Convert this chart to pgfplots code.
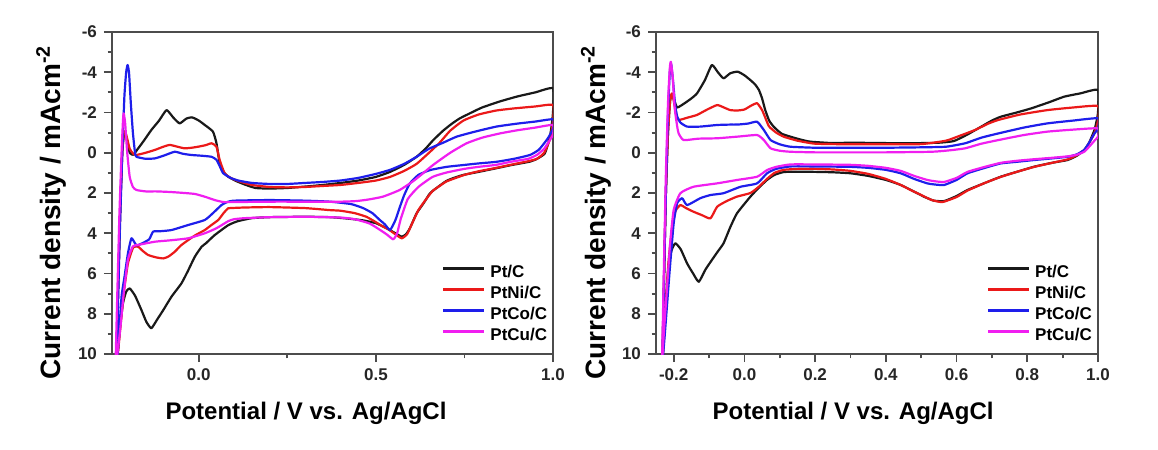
\documentclass[border=0pt]{standalone}
\usepackage{pgfplots}
\pgfplotsset{compat=1.18}
\usepackage{fontspec}
\setmainfont{Liberation Sans}
\definecolor{cvblack}{RGB}{25,25,25}
\definecolor{cvred}{RGB}{235,25,25}
\definecolor{cvblue}{RGB}{30,30,235}
\definecolor{cvmag}{RGB}{240,30,240}

\pgfplotsset{cvstyle/.style={
  scale only axis, height=161pt,
  y dir=reverse, ymin=-6, ymax=10, ytick={-6,-4,...,10}, minor y tick num=1,
  xmax=1.0, no markers,
  tick pos=left, tick align=outside,
  major tick length=4pt, minor tick length=2.2pt,
  tick style={black!70, line width=0.9pt},
  axis line style={black!70, line width=1.2pt},
  ticklabel style={font=\fontsize{8.5}{9}\selectfont\bfseries, text=black!85},
  xticklabel={\pgfmathprintnumber[assume math mode=true,fixed,fixed zerofill,precision=1]{\tick}},
  yticklabel={\pgfmathprintnumber[assume math mode=true]{\tick}},
  xlabel={Potential / V vs. Ag/AgCl},
  ylabel={Current density / mAcm\textsuperscript{-2}},
  xlabel style={font=\fontsize{12}{14}\selectfont\bfseries, anchor=base},
  ylabel style={font=\fontsize{14}{16}\selectfont\bfseries, anchor=center},
  legend style={draw=none, fill=none, at={(axis description cs:0.748,0.281)}, anchor=north west,
    font=\fontsize{8.5}{9}\selectfont\bfseries, row sep=0pt, column sep=2.5pt, inner sep=0pt,
    nodes={inner sep=0pt, text height=7pt, text depth=3.5pt}},
  legend image code/.code={\draw[#1] (0pt,3pt) -- (20.5pt,3pt);},
  legend cell align=left,
  every axis plot/.append style={line width=1.1pt, line join=round, smooth, tension=0.3},
}}

\begin{document}
\begin{tikzpicture}
\useasboundingbox (0,0) rectangle (579pt,-225pt);

%================ LEFT PANEL =================
\begin{axis}[cvstyle, at={(56pt,-177pt)}, anchor=south west, width=220.5pt,
  xmin=-0.245, xtick={0,0.5,1}, minor x tick num=1,
  xlabel style={at={(axis description cs:0.44,-0.202)}},
  ylabel style={at={(axis description cs:-0.138,0.44)}}]
% Pt/C
\addplot[cvblack] coordinates {
(-0.233,10.5)(-0.228,7)(-0.222,3)(-0.216,0)(-0.211,-0.9)(-0.205,-0.8)(-0.195,0.0)(-0.185,0.1)(-0.176,-0.1)
(-0.155,-0.6)(-0.134,-1.13)(-0.112,-1.6)(-0.091,-2.12)(-0.072,-1.75)(-0.054,-1.46)(-0.035,-1.7)(-0.019,-1.76)
(0.000,-1.6)(0.017,-1.38)(0.040,-1.05)(0.050,-0.47)(0.059,0.53)(0.070,0.95)(0.083,1.19)(0.105,1.4)(0.130,1.58)
(0.160,1.75)(0.200,1.78)(0.250,1.75)(0.300,1.68)(0.350,1.6)(0.400,1.5)(0.450,1.38)(0.500,1.2)(0.540,0.95)
(0.580,0.6)(0.615,0.2)(0.640,-0.2)(0.662,-0.63)(0.690,-1.1)(0.715,-1.45)(0.737,-1.71)(0.770,-2.0)(0.800,-2.25)
(0.850,-2.55)(0.900,-2.8)(0.950,-3.0)(1.000,-3.2)
(1.000,-2.0)(0.995,-1.2)(0.990,-0.7)(0.977,0.03)(0.955,0.3)(0.935,0.44)(0.880,0.62)(0.840,0.77)(0.790,0.95)
(0.747,1.1)(0.720,1.25)(0.699,1.4)(0.675,1.7)(0.653,2.01)(0.635,2.5)(0.615,3.01)(0.596,3.75)(0.585,4.05)
(0.573,4.17)(0.555,4.0)(0.530,3.75)(0.500,3.5)(0.464,3.36)(0.420,3.27)(0.370,3.2)(0.300,3.18)(0.200,3.2)
(0.150,3.25)(0.110,3.4)(0.083,3.6)(0.045,4.09)(0.020,4.5)(0.008,4.67)(-0.011,5.16)(-0.030,5.85)(-0.049,6.49)
(-0.077,7.15)(-0.100,7.81)(-0.118,8.3)(-0.134,8.72)(-0.148,8.4)(-0.162,7.81)(-0.180,7.1)(-0.195,6.74)
(-0.205,6.9)(-0.214,7.48)(-0.222,8.6)(-0.228,9.8)(-0.233,10.5)};
% PtNi/C
\addplot[cvred] coordinates {
(-0.233,10.5)(-0.228,7)(-0.222,3)(-0.216,0)(-0.211,-1.05)(-0.205,-0.9)(-0.195,-0.2)(-0.185,0.05)(-0.176,0.11)
(-0.150,0.0)(-0.124,-0.14)(-0.100,-0.3)(-0.082,-0.39)(-0.060,-0.3)(-0.040,-0.22)(-0.020,-0.25)(-0.002,-0.3)
(0.020,-0.38)(0.036,-0.47)(0.050,-0.3)(0.059,0.36)(0.073,1.02)(0.090,1.25)(0.111,1.4)(0.150,1.6)(0.200,1.7)
(0.250,1.72)(0.300,1.7)(0.350,1.65)(0.400,1.6)(0.450,1.5)(0.500,1.38)(0.540,1.2)(0.580,0.9)(0.615,0.55)
(0.650,0.0)(0.680,-0.5)(0.710,-1.1)(0.747,-1.6)(0.790,-1.9)(0.840,-2.1)(0.888,-2.2)(0.950,-2.3)(1.000,-2.37)
(1.000,-1.5)(0.995,-1.0)(0.990,-0.6)(0.975,0.0)(0.955,0.3)(0.930,0.42)(0.880,0.6)(0.840,0.75)(0.790,0.92)
(0.750,1.1)(0.700,1.42)(0.680,1.65)(0.660,1.9)(0.640,2.35)(0.620,2.85)(0.600,3.6)(0.588,4.05)(0.573,4.25)
(0.555,4.05)(0.535,3.8)(0.520,3.67)(0.500,3.45)(0.473,3.18)(0.440,3.0)(0.400,2.88)(0.370,2.85)(0.300,2.75)
(0.200,2.7)(0.130,2.72)(0.100,2.74)(0.083,2.76)(0.070,3.0)(0.055,3.34)(0.035,3.6)(0.017,3.84)(-0.010,4.1)
(-0.030,4.34)(-0.050,4.6)(-0.068,4.92)(-0.085,5.15)(-0.100,5.25)(-0.120,5.2)(-0.143,5.08)(-0.160,4.85)
(-0.171,4.67)(-0.185,4.7)(-0.200,5.5)(-0.212,7.0)(-0.222,8.8)(-0.228,9.9)(-0.233,10.5)};
% PtCo/C
\addplot[cvblue] coordinates {
(-0.233,10.5)(-0.228,7.5)(-0.223,4)(-0.216,0)(-0.210,-2.8)(-0.205,-4.0)(-0.201,-4.36)(-0.197,-4.0)(-0.192,-2.5)
(-0.186,-1.0)(-0.180,0.0)(-0.176,0.2)(-0.150,0.3)(-0.124,0.28)(-0.100,0.15)(-0.068,-0.05)(-0.045,0.05)
(-0.021,0.11)(0.010,0.15)(0.036,0.2)(0.050,0.35)(0.060,0.7)(0.069,1.02)(0.090,1.25)(0.111,1.38)(0.150,1.5)
(0.200,1.55)(0.250,1.55)(0.300,1.5)(0.350,1.45)(0.400,1.38)(0.450,1.25)(0.500,1.05)(0.540,0.85)(0.580,0.55)
(0.615,0.2)(0.650,-0.2)(0.690,-0.5)(0.728,-0.8)(0.780,-1.05)(0.840,-1.3)(0.900,-1.45)(0.950,-1.55)(1.000,-1.66)
(1.000,-1.2)(0.990,-0.85)(0.982,-0.63)(0.960,-0.15)(0.935,0.11)(0.890,0.3)(0.840,0.45)(0.790,0.53)(0.747,0.61)
(0.700,0.7)(0.653,0.86)(0.620,1.1)(0.596,1.52)(0.580,2.1)(0.568,2.68)(0.555,3.35)(0.540,3.84)(0.525,3.55)
(0.511,3.34)(0.490,3.0)(0.464,2.75)(0.430,2.55)(0.370,2.43)(0.300,2.38)(0.200,2.35)(0.100,2.38)(0.080,2.45)
(0.064,2.6)(0.040,3.0)(0.017,3.34)(-0.030,3.59)(-0.077,3.84)(-0.110,3.9)(-0.129,3.92)(-0.140,4.3)(-0.160,4.5)
(-0.176,4.6)(-0.190,4.25)(-0.200,5.0)(-0.210,6.2)(-0.218,7.15)(-0.228,9.8)(-0.233,10.5)};
% PtCu/C
\addplot[cvmag] coordinates {
(-0.235,10.5)(-0.230,7)(-0.224,3)(-0.218,0)(-0.214,-1.6)(-0.212,-1.96)(-0.208,-1.5)(-0.202,0.0)(-0.195,1.2)
(-0.186,1.7)(-0.176,1.85)(-0.150,1.92)(-0.120,1.92)(-0.080,1.95)(-0.040,2.0)(-0.010,2.05)(0.020,2.2)(0.045,2.35)
(0.070,2.45)(0.100,2.45)(0.200,2.43)(0.300,2.43)(0.400,2.43)(0.445,2.4)(0.480,2.32)(0.520,2.18)(0.567,1.85)
(0.610,1.35)(0.662,0.6)(0.710,0.0)(0.756,-0.47)(0.800,-0.75)(0.850,-0.96)(0.900,-1.12)(0.950,-1.25)(1.000,-1.38)
(1.000,-0.9)(0.990,-0.6)(0.975,-0.2)(0.955,0.1)(0.930,0.3)(0.880,0.45)(0.840,0.6)(0.790,0.7)(0.750,0.8)
(0.700,0.98)(0.660,1.2)(0.620,1.7)(0.590,2.3)(0.570,3.3)(0.560,4.0)(0.549,4.3)(0.530,4.05)(0.500,3.7)
(0.480,3.5)(0.440,3.3)(0.400,3.22)(0.300,3.18)(0.200,3.2)(0.130,3.25)(0.100,3.3)(0.083,3.4)(0.050,3.75)
(0.017,4.0)(-0.030,4.25)(-0.080,4.35)(-0.124,4.42)(-0.171,4.58)(-0.186,4.65)(-0.200,5.3)(-0.212,7.0)
(-0.222,8.8)(-0.230,10.0)(-0.235,10.5)};
\legend{Pt/C, PtNi/C, PtCo/C, PtCu/C}
\end{axis}

%================ RIGHT PANEL =================
\begin{axis}[cvstyle, at={(328pt,-177pt)}, anchor=south west, width=221pt,
  xmin=-0.25, xtick={-0.2,0,0.2,0.4,0.6,0.8,1}, minor x tick num=1,
  xlabel style={at={(axis description cs:0.446,-0.202)}},
  ylabel style={at={(axis description cs:-0.136,0.44)}}]
% Pt/C
\addplot[cvblack] coordinates {
(-0.232,10.5)(-0.227,6)(-0.222,2)(-0.216,-1.0)(-0.210,-2.6)(-0.205,-2.9)(-0.198,-2.6)(-0.190,-2.25)(-0.170,-2.45)
(-0.150,-2.7)(-0.134,-2.95)(-0.112,-3.6)(-0.092,-4.36)(-0.075,-4.0)(-0.059,-3.7)(-0.040,-3.95)(-0.019,-4.03)
(0.000,-3.85)(0.017,-3.61)(0.030,-3.4)(0.041,-3.12)(0.050,-2.7)(0.059,-2.12)(0.070,-1.6)(0.083,-1.29)
(0.105,-0.95)(0.130,-0.8)(0.160,-0.65)(0.187,-0.55)(0.250,-0.48)(0.300,-0.5)(0.400,-0.48)(0.500,-0.48)
(0.550,-0.5)(0.592,-0.58)(0.630,-0.9)(0.669,-1.29)(0.700,-1.6)(0.725,-1.79)(0.770,-2.0)(0.810,-2.2)
(0.860,-2.5)(0.905,-2.79)(0.950,-2.95)(1.000,-3.12)
(1.000,-2.0)(0.995,-1.5)(0.990,-1.13)(0.975,-0.5)(0.961,-0.14)(0.940,0.15)(0.914,0.36)(0.870,0.5)(0.820,0.69)
(0.770,0.95)(0.725,1.19)(0.680,1.5)(0.631,1.85)(0.600,2.15)(0.565,2.4)(0.536,2.38)(0.510,2.2)(0.489,2.01)
(0.442,1.6)(0.400,1.35)(0.350,1.15)(0.300,1.02)(0.250,0.97)(0.200,0.95)(0.150,0.94)(0.111,0.96)(0.085,1.1)
(0.064,1.35)(0.040,1.75)(0.017,2.18)(-0.021,3.01)(-0.040,3.7)(-0.059,4.5)(-0.075,4.9)(-0.092,5.33)
(-0.110,5.8)(-0.129,6.41)(-0.145,6.0)(-0.162,5.5)(-0.180,4.8)(-0.195,4.5)(-0.205,4.8)(-0.214,5.5)
(-0.225,8.0)(-0.232,10.5)};
% PtNi/C
\addplot[cvred] coordinates {
(-0.232,10.5)(-0.227,6)(-0.222,2)(-0.216,-1.0)(-0.210,-2.6)(-0.205,-2.95)(-0.199,-2.5)(-0.193,-1.9)(-0.186,-1.63)
(-0.160,-1.75)(-0.134,-1.88)(-0.105,-2.15)(-0.077,-2.37)(-0.058,-2.25)(-0.040,-2.12)(-0.020,-2.1)(0.000,-2.15)
(0.020,-2.35)(0.036,-2.46)(0.050,-2.12)(0.060,-1.7)(0.070,-1.3)(0.090,-1.0)(0.111,-0.8)(0.150,-0.6)
(0.200,-0.45)(0.300,-0.42)(0.400,-0.42)(0.500,-0.43)(0.570,-0.6)(0.610,-0.85)(0.652,-1.13)(0.690,-1.45)
(0.718,-1.63)(0.780,-1.9)(0.857,-2.12)(0.930,-2.25)(1.000,-2.32)
(1.000,-1.6)(0.993,-1.1)(0.985,-0.8)(0.965,-0.2)(0.940,0.12)(0.914,0.33)(0.870,0.5)(0.820,0.7)(0.770,0.95)
(0.725,1.2)(0.680,1.5)(0.631,1.88)(0.600,2.2)(0.560,2.45)(0.530,2.35)(0.500,2.1)(0.470,1.85)(0.442,1.6)
(0.400,1.3)(0.350,1.05)(0.300,0.9)(0.250,0.83)(0.200,0.8)(0.150,0.8)(0.111,0.85)(0.085,1.0)(0.064,1.3)
(0.040,1.7)(0.017,2.0)(-0.021,2.18)(-0.050,2.4)(-0.077,2.68)(-0.096,3.26)(-0.120,3.1)(-0.144,2.93)
(-0.165,2.75)(-0.181,2.6)(-0.195,2.9)(-0.205,3.8)(-0.215,5.5)(-0.225,8.5)(-0.232,10.5)};
% PtCo/C
\addplot[cvblue] coordinates {
(-0.232,10.5)(-0.227,6)(-0.222,2)(-0.216,-2.0)(-0.211,-4.0)(-0.207,-4.4)(-0.202,-3.6)(-0.196,-2.4)(-0.190,-1.8)
(-0.181,-1.5)(-0.162,-1.3)(-0.125,-1.3)(-0.077,-1.38)(-0.040,-1.4)(-0.020,-1.4)(0.010,-1.45)(0.036,-1.54)
(0.055,-1.13)(0.074,-0.63)(0.100,-0.42)(0.130,-0.3)(0.200,-0.25)(0.300,-0.25)(0.400,-0.25)(0.500,-0.27)
(0.570,-0.3)(0.624,-0.47)(0.670,-0.75)(0.718,-0.96)(0.790,-1.25)(0.857,-1.46)(0.930,-1.6)(1.000,-1.71)
(1.000,-1.2)(0.990,-0.96)(0.975,-0.5)(0.961,-0.14)(0.940,0.08)(0.914,0.2)(0.870,0.28)(0.820,0.36)(0.770,0.45)
(0.725,0.53)(0.680,0.75)(0.631,1.02)(0.600,1.35)(0.565,1.6)(0.540,1.58)(0.517,1.52)(0.480,1.3)(0.442,1.02)
(0.400,0.85)(0.350,0.75)(0.300,0.7)(0.200,0.68)(0.130,0.68)(0.090,0.8)(0.064,1.02)(0.036,1.52)(-0.011,1.69)
(-0.059,2.01)(-0.096,2.1)(-0.125,2.26)(-0.162,2.6)(-0.176,2.26)(-0.190,2.5)(-0.200,3.5)(-0.212,6.0)
(-0.225,9.0)(-0.232,10.5)};
% PtCu/C
\addplot[cvmag] coordinates {
(-0.233,10.5)(-0.228,6)(-0.222,1)(-0.216,-2.5)(-0.211,-4.2)(-0.208,-4.52)(-0.203,-3.8)(-0.197,-2.2)(-0.190,-1.3)
(-0.186,-0.96)(-0.172,-0.63)(-0.130,-0.7)(-0.077,-0.72)(-0.020,-0.8)(0.036,-0.88)(0.055,-0.63)(0.074,-0.22)
(0.100,-0.1)(0.130,-0.05)(0.200,-0.02)(0.300,-0.02)(0.400,-0.02)(0.530,-0.05)(0.580,-0.12)(0.624,-0.22)
(0.670,-0.45)(0.718,-0.63)(0.790,-0.88)(0.857,-1.05)(0.930,-1.15)(1.000,-1.21)
(1.000,-0.8)(0.990,-0.6)(0.975,-0.3)(0.961,-0.05)(0.940,0.1)(0.914,0.18)(0.870,0.25)(0.820,0.32)(0.770,0.4)
(0.725,0.5)(0.680,0.7)(0.631,0.95)(0.600,1.25)(0.565,1.45)(0.540,1.42)(0.517,1.35)(0.480,1.15)(0.442,0.9)
(0.400,0.75)(0.350,0.65)(0.300,0.6)(0.200,0.58)(0.130,0.58)(0.090,0.7)(0.064,0.86)(0.036,1.19)(-0.020,1.35)
(-0.077,1.52)(-0.144,1.69)(-0.181,2.01)(-0.200,2.84)(-0.210,4.5)(-0.220,7.0)(-0.228,9.0)(-0.233,10.5)};
\legend{Pt/C, PtNi/C, PtCo/C, PtCu/C}
\end{axis}
\end{tikzpicture}
\end{document}
